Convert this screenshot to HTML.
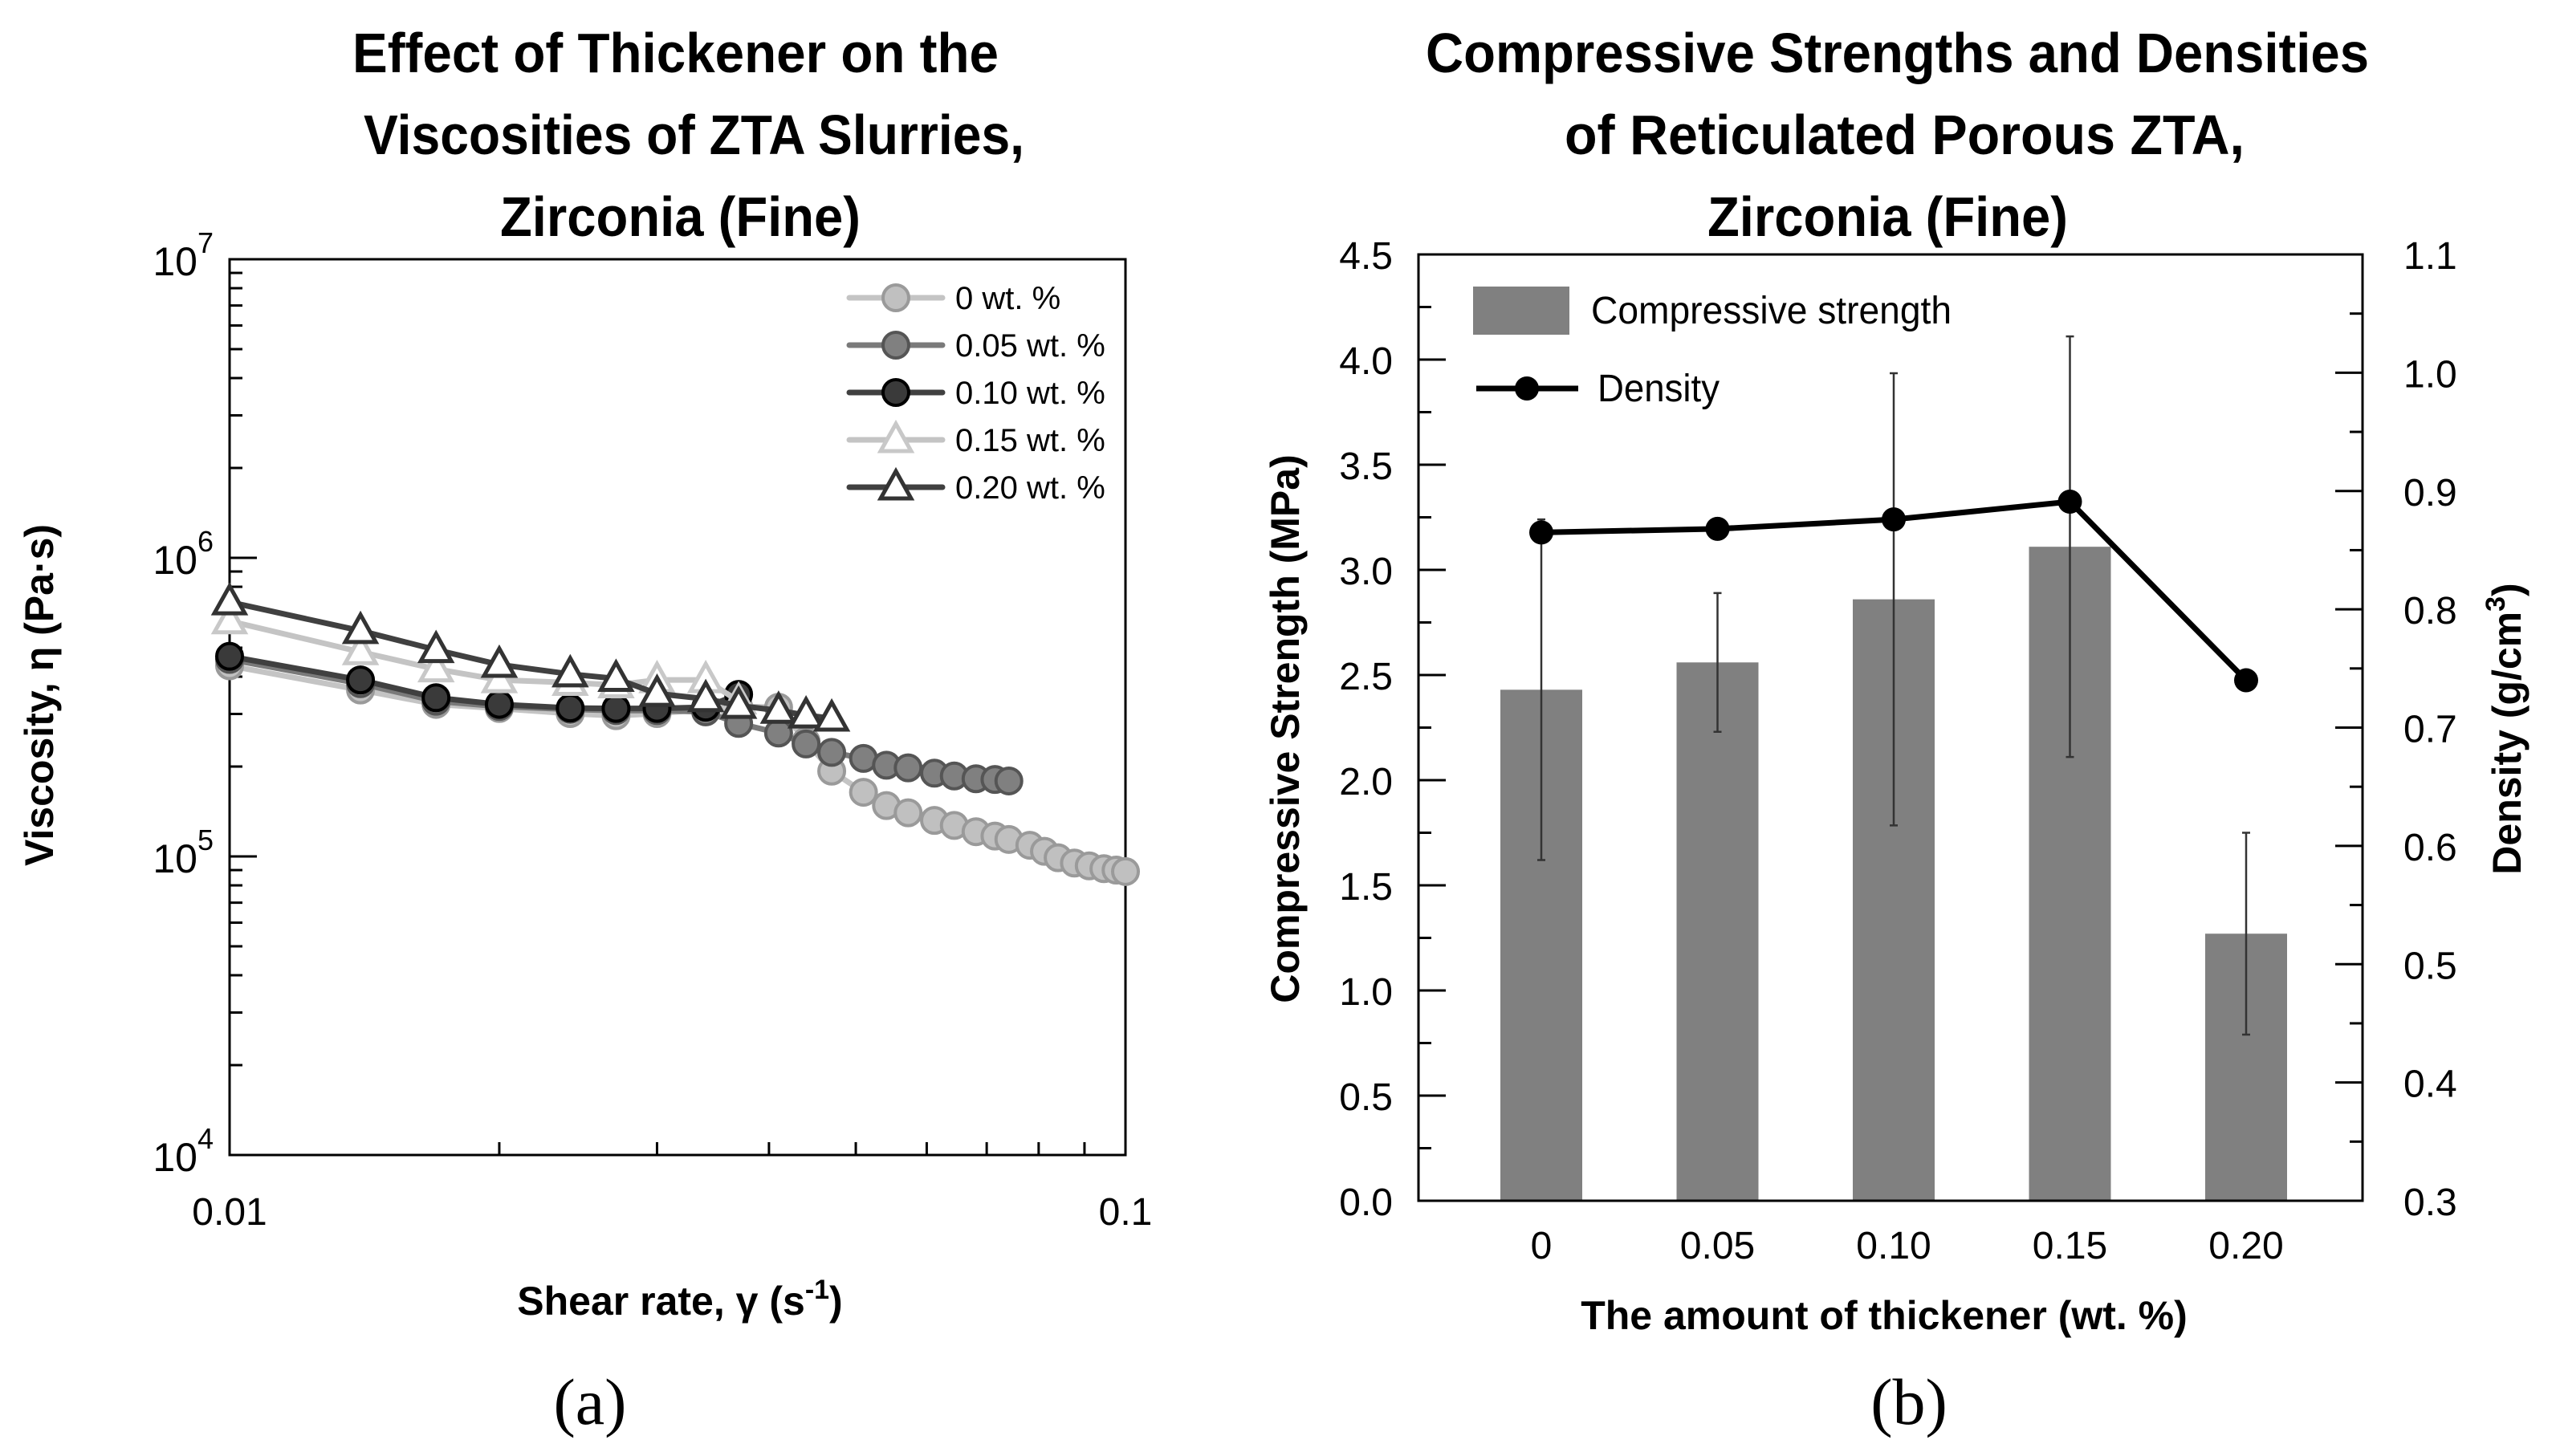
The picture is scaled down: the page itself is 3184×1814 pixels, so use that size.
<!DOCTYPE html>
<html><head><meta charset="utf-8"><style>
html,body{margin:0;padding:0;background:#fff}
svg{display:block}
text{font-family:"Liberation Sans",sans-serif;fill:#000}
</style></head>
<body>
<svg id="fig" width="3184" height="1814" viewBox="0 0 3184 1814" xmlns="http://www.w3.org/2000/svg">
<g font-weight="bold" font-size="70" text-anchor="start">
<text x="439" y="90" textLength="805" lengthAdjust="spacingAndGlyphs">Effect of Thickener on the</text>
<text x="453" y="192" textLength="823" lengthAdjust="spacingAndGlyphs">Viscosities of ZTA Slurries,</text>
<text x="623" y="294" textLength="449" lengthAdjust="spacingAndGlyphs">Zirconia (Fine)</text>
</g>
<g font-weight="bold" font-size="70">
<text x="1776" y="90" textLength="1175" lengthAdjust="spacingAndGlyphs">Compressive Strengths and Densities</text>
<text x="1949" y="192" textLength="847" lengthAdjust="spacingAndGlyphs">of Reticulated Porous ZTA,</text>
<text x="2127" y="294" textLength="449" lengthAdjust="spacingAndGlyphs">Zirconia (Fine)</text>
</g>
<g id="chartA"></g>
<g id="chartB"></g>
<text x="735" y="1774" font-size="82" text-anchor="middle" style="font-family:'Liberation Serif',serif">(a)</text>
<text x="2378" y="1774" font-size="82" text-anchor="middle" style="font-family:'Liberation Serif',serif">(b)</text>
</svg>
<script>
// ---------- Chart A data ----------
const seriesNames = ["0 wt. %","0.05 wt. %","0.10 wt. %","0.15 wt. %","0.20 wt. %"];
const x0 = [0.01,0.014,0.017,0.020,0.024,0.027,0.030,0.034,0.037,0.041,0.044,0.047,0.051,0.0541,0.0572,0.0612,0.0644,0.0681,0.0715,0.0741,0.0782,0.0812,0.0841,0.0877,0.0911,0.0946,0.0976,0.1];
const y0 = [435e3,361e3,323e3,313e3,301e3,296e3,301e3,311e3,318e3,316e3,243e3,193e3,164e3,148e3,140e3,132e3,127e3,121e3,117e3,114e3,109e3,104e3,99e3,95e3,93e3,91e3,90e3,89e3];
const x05 = [0.01,0.014,0.017,0.020,0.024,0.027,0.030,0.034,0.037,0.041,0.044,0.047,0.051,0.0541,0.0572,0.0612,0.0644,0.0681,0.0715,0.0741];
const y05 = [457e3,379e3,331e3,318e3,311e3,308e3,308e3,305e3,279e3,259e3,238e3,223e3,213e3,202e3,198e3,190e3,186e3,182e3,181e3,179e3];
const x10 = [0.01,0.014,0.017,0.020,0.024,0.027,0.030,0.034,0.037];
const y10 = [468e3,390e3,340e3,323e3,314e3,313e3,313e3,316e3,349e3];
const x15 = [0.01,0.014,0.017,0.020,0.024,0.027,0.030,0.034,0.037];
const y15 = [614e3,484e3,424e3,390e3,382e3,375e3,390e3,390e3,331e3];
const x20 = [0.01,0.014,0.017,0.020,0.024,0.027,0.030,0.034,0.037,0.041,0.044,0.047];
const y20 = [711e3,570e3,492e3,439e3,408e3,394e3,351e3,337e3,320e3,308e3,297e3,290e3];
const yTickExps = [4,5,6,7];
const xTickLabels = ["0.01","0.1"];

// ---------- Chart B data ----------
const categories = ["0","0.05","0.10","0.15","0.20"];
const strength = [2.43,2.56,2.86,3.11,1.27];
const strengthErr = [0.81,0.33,1.075,1.0,0.48];
const density = [0.865,0.868,0.876,0.891,0.740];
const leftTicks = ["0.0","0.5","1.0","1.5","2.0","2.5","3.0","3.5","4.0","4.5"];
const rightTicks = ["0.3","0.4","0.5","0.6","0.7","0.8","0.9","1.0","1.1"];

const NS="http://www.w3.org/2000/svg";
function mk(parent,tag,attrs,txt){const e=document.createElementNS(NS,tag);for(const k in attrs)e.setAttribute(k,attrs[k]);if(txt!==undefined)e.textContent=txt;parent.appendChild(e);return e;}

// ===== Chart A =====
(function(){
const g=document.getElementById('chartA');
const L=286,R=1402,T=323,B=1439;
const sx=v=>L+(Math.log10(v)+2)*(R-L);
const sy=v=>B-(Math.log10(v)-4)/3*(B-T);
for(let e=4;e<7;e++){for(let m=1;m<=9;m++){const v=m*Math.pow(10,e);const y=sy(v);const len=m===1?34:16;
 const t=mk(g,'line',{x1:L,x2:L+len,y1:y,y2:y,stroke:'#000','stroke-width':3});
 
 }}
for(let m=2;m<=9;m++){const x=sx(m*0.01);
 const t=mk(g,'line',{x1:x,x2:x,y1:B,y2:B-16,stroke:'#000','stroke-width':3});
 
 }
const box=mk(g,'rect',{x:L,y:T,width:R-L,height:B-T,fill:'none',stroke:'#000','stroke-width':3});


yTickExps.forEach(e=>{const y=sy(Math.pow(10,e));
 const t=mk(g,'text',{x:266,y:y+20,'font-size':50,'text-anchor':'end'});
 
 
 mk(t,'tspan',{},'10');mk(t,'tspan',{dy:-28,'font-size':36},String(e));});
xTickLabels.forEach(s=>{const t=mk(g,'text',{x:sx(parseFloat(s)),y:1526,'font-size':48,'text-anchor':'middle'},s);
 
 });
const xt=mk(g,'text',{x:847,y:1638,'font-size':50,'font-weight':'bold','text-anchor':'middle'});


mk(xt,'tspan',{},'Shear rate, γ (s');mk(xt,'tspan',{dy:-20,'font-size':34},'-1');mk(xt,'tspan',{dy:20},')');
const yt=mk(g,'text',{x:0,y:0,'font-size':50,'font-weight':'bold','text-anchor':'middle',transform:'translate(66,866) rotate(-90)'},'Viscosity, η (Pa·s)');


const styles=[
 {xs:x0,ys:y0,line:'#c4c4c4',fill:'#c0c0c0',stroke:'#9a9a9a',shape:'c'},
 {xs:x05,ys:y05,line:'#7a7a7a',fill:'#808080',stroke:'#555',shape:'c'},
 {xs:x10,ys:y10,line:'#404040',fill:'#3a3a3a',stroke:'#000',shape:'c'},
 {xs:x15,ys:y15,line:'#c4c4c4',fill:'#fff',stroke:'#c8c8c8',shape:'t'},
 {xs:x20,ys:y20,line:'#404040',fill:'#fff',stroke:'#333',shape:'t'}];
function marker(p,s,x,y){
 if(s.shape==='c') return mk(p,'circle',{cx:x,cy:y,r:16,fill:s.fill,stroke:s.stroke,'stroke-width':4});
 return mk(p,'path',{d:`M${x},${y-20} L${x+19},${y+14} L${x-19},${y+14} Z`,fill:s.fill,stroke:s.stroke,'stroke-width':5,'stroke-linejoin':'miter'});
}
styles.forEach((s,i)=>{
 const sg=mk(g,'g',{});
 
 
 const pts=s.xs.map((x,j)=>sx(x)+','+sy(s.ys[j])).join(' ');
 mk(sg,'polyline',{points:pts,fill:'none',stroke:s.line,'stroke-width':7});
 s.xs.forEach((x,j)=>{const m=marker(sg,s,sx(x),sy(s.ys[j]));
  
  });
 const ly=371+i*59;
 const lg=mk(g,'g',{});
 
 
 mk(lg,'line',{x1:1058,x2:1174,y1:ly,y2:ly,stroke:s.line,'stroke-width':7,'stroke-linecap':'round'});
 marker(lg,s,1116,ly);
 mk(lg,'text',{x:1190,y:ly+14,'font-size':40},seriesNames[i]);
});
})();

// ===== Chart B =====
(function(){
const g=document.getElementById('chartB');
const L=1767,R=2943,T=317,B=1496;
const yl=v=>B-v/4.5*(B-T);
const yr=v=>B-(v-0.3)/0.8*(B-T);
const cx=i=>1920+i*219.5;
const bw=102;
categories.forEach((c,i)=>{
 const b=mk(g,'rect',{x:cx(i)-bw/2,y:yl(strength[i]),width:bw,height:B-yl(strength[i]),fill:'#808080'});
 
 
});
categories.forEach((c,i)=>{
 const lo=yl(strength[i]-strengthErr[i]),hi=yl(strength[i]+strengthErr[i]);
 const e=mk(g,'path',{d:`M${cx(i)},${lo}V${hi}M${cx(i)-5},${lo}H${cx(i)+5}M${cx(i)-5},${hi}H${cx(i)+5}`,stroke:'#333','stroke-width':2.5,fill:'none'});
 
 
});
for(let k=0;k<=18;k++){const y=yl(k*0.25);const len=k%2===0?34:16;
 const t=mk(g,'line',{x1:L,x2:L+len,y1:y,y2:y,stroke:'#000','stroke-width':3});
 
 }
for(let k=0;k<=16;k++){const y=yr(0.3+k*0.05);const len=k%2===0?34:16;
 const t=mk(g,'line',{x1:R,x2:R-len,y1:y,y2:y,stroke:'#000','stroke-width':3});
 
 }
const box=mk(g,'rect',{x:L,y:T,width:R-L,height:B-T,fill:'none',stroke:'#000','stroke-width':3});


leftTicks.forEach(s=>{const t=mk(g,'text',{x:1735,y:yl(parseFloat(s))+18,'font-size':48,'text-anchor':'end'},s);
 
 });
rightTicks.forEach(s=>{const t=mk(g,'text',{x:2994,y:yr(parseFloat(s))+18,'font-size':48},s);
 
 });
categories.forEach((c,i)=>{const t=mk(g,'text',{x:cx(i),y:1568,'font-size':48,'text-anchor':'middle'},c);
 
 });
const dg=mk(g,'g',{});


mk(dg,'polyline',{points:density.map((d,i)=>cx(i)+','+yr(d)).join(' '),fill:'none',stroke:'#000','stroke-width':7});
density.forEach((d,i)=>{const p=mk(dg,'circle',{cx:cx(i),cy:yr(d),r:15,fill:'#000'});
 
 });
const xt=mk(g,'text',{x:2347,y:1656,'font-size':50,'font-weight':'bold','text-anchor':'middle'},'The amount of thickener (wt. %)');


const yt=mk(g,'text',{x:0,y:0,'font-size':50,'font-weight':'bold','text-anchor':'middle',transform:'translate(1618,908) rotate(-90)'},'Compressive Strength (MPa)');


const rt=mk(g,'text',{x:0,y:0,'font-size':50,'font-weight':'bold','text-anchor':'middle',transform:'translate(3140,908) rotate(-90)'});


mk(rt,'tspan',{},'Density (g/cm');mk(rt,'tspan',{dy:-20,'font-size':34},'3');mk(rt,'tspan',{dy:20},')');
const l1=mk(g,'g',{});


mk(l1,'rect',{x:1835,y:357,width:120,height:60,fill:'#808080'});
mk(l1,'text',{x:1982,y:403,'font-size':48,textLength:449,lengthAdjust:'spacingAndGlyphs'},'Compressive strength');
const l2=mk(g,'g',{});


mk(l2,'line',{x1:1839,x2:1966,y1:484,y2:484,stroke:'#000','stroke-width':7});
mk(l2,'circle',{cx:1902,cy:484,r:15,fill:'#000'});
mk(l2,'text',{x:1990,y:500,'font-size':48,textLength:152,lengthAdjust:'spacingAndGlyphs'},'Density');
})();
</script>
</body></html>
